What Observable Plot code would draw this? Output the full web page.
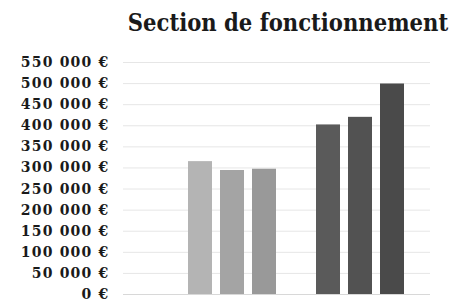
<!DOCTYPE html>
<html>
<head>
<meta charset="utf-8">
<script src="https://cdn.jsdelivr.net/npm/d3@7"></script>
<script src="https://cdn.jsdelivr.net/npm/@observablehq/plot@0.6"></script>
<style>
  html, body { margin: 0; padding: 0; background: #fff; }
  #wrap { width: 452px; height: 301px; position: relative; overflow: hidden; }
  #title { position: absolute; left: 118px; top: 12px; width: 340px; text-align: center; line-height: 1;
           font-family: "DejaVu Serif Condensed", "DejaVu Serif", serif; font-weight: bold; font-size: 23.5px; color: #1a1a1a; white-space: nowrap; }
  #chart { position: absolute; left: 0; top: 50px; }
</style>
</head>
<body>
<div id="wrap">
  <div id="title">Section de fonctionnement</div>
  <div id="chart"></div>
</div>
<script>
const groups = ["Groupe 1", "Groupe 2"];
const series = ["Série 1", "Série 2", "Série 3"];
const valuesGroup1 = [315000, 294000, 297000];
const valuesGroup2 = [402000, 420000, 499000];
const yTicks = [0, 50000, 100000, 150000, 200000, 250000, 300000, 350000, 400000, 450000, 500000, 550000];

const palette = ["#b4b4b4", "#a4a4a4", "#999999", "#5a5a5a", "#525252", "#4a4a4a"];

const data = [
  ...series.map((s, i) => ({key: groups[0] + " – " + s, group: groups[0], series: s, value: valuesGroup1[i]})),
  ...series.map((s, i) => ({key: groups[1] + " – " + s, group: groups[1], series: s, value: valuesGroup2[i]}))
];
const spacer = "·";
const xDomain = [...data.slice(0, 3).map(d => d.key), spacer, ...data.slice(3).map(d => d.key)];

const fmt = v => d3.format(",")(v).replace(/,/g, " ") + " €";

const plot = Plot.plot({
  width: 452,
  height: 251,
  marginLeft: 123,
  marginRight: 22,
  marginTop: 12,
  marginBottom: 7,
  style: {fontFamily: "'DejaVu Serif', serif", fontSize: "14px", fontWeight: "bold", color: "#1a1a1a", background: "#fff", letterSpacing: "1.2px"},
  x: {type: "band", domain: xDomain, range: [181, 411], paddingInner: 0.24, paddingOuter: 0.12, axis: null},
  y: {domain: [0, 550000], ticks: yTicks, axis: null},
  color: {domain: data.map(d => d.key), range: palette},
  marks: [
    Plot.ruleY(yTicks.filter(t => t > 0), {stroke: "#e6e6e6", strokeWidth: 1}),
    Plot.ruleY([0], {stroke: "#d8d8d8", strokeWidth: 1}),
    Plot.barY(data, {x: "key", y: "value", fill: "key"}),
    Plot.axisY({ticks: yTicks, tickSize: 0, tickPadding: 14, tickFormat: fmt, label: null, fontWeight: "bold", fill: "#1a1a1a"})
  ]
});
document.getElementById("chart").appendChild(plot);
</script>
</body>
</html>
